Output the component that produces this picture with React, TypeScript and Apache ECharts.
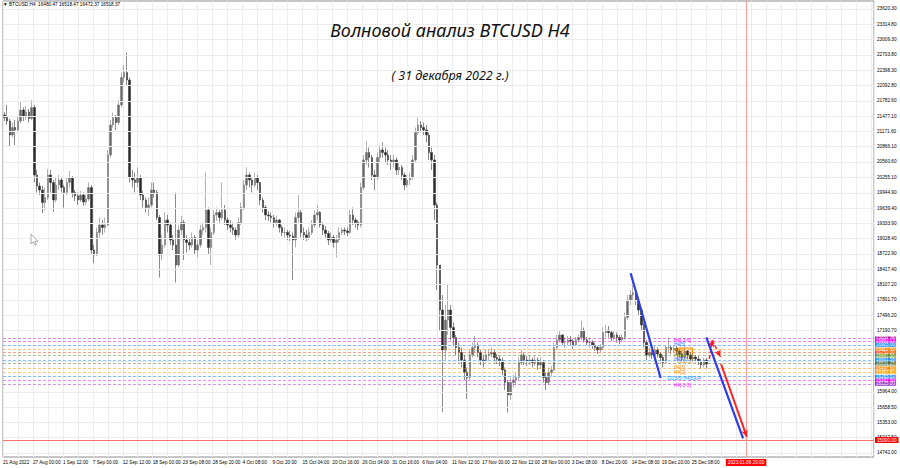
import React, { useEffect, useRef } from 'react';
import * as echarts from 'echarts';

// ---- price data: 12-hour candles, rows are [close, low, high]; open = previous close
const firstOpen = 21500;
const aug = [
  [21450, 21380, 21560], [21380, 21300, 21700], [21100, 20880, 21420], [21250, 21050, 21350],
  [21200, 20900, 21400], [21380, 21150, 21480], [21600, 21330, 21780], [21480, 21380, 21650],
  [21560, 21400, 21680], [21430, 21350, 21620], [21650, 21400, 21800], [20300, 20150, 21700],
  [20080, 19950, 20400], [20000, 19900, 20150], [19750, 19540, 20080], [19850, 19600, 20050],
  [20300, 19800, 20420], [20150, 19950, 20400], [19800, 19560, 20200], [20100, 19750, 20250],
  [20200, 20000, 20300],
];
const sep = [
  [20050, 19950, 20250], [19950, 19650, 20100], [20150, 19900, 20250], [20250, 20050, 20380],
  [19950, 19850, 20280], [19880, 19780, 20000], [19800, 19700, 19950], [19900, 19760, 19980],
  [19760, 19680, 19950], [19820, 19700, 19900], [20050, 19780, 20150], [18800, 18700, 20100],
  [18700, 18540, 18900], [19150, 18680, 19250], [19300, 19050, 19450], [19250, 19100, 19400],
  [19300, 19150, 19450], [20700, 19280, 20800], [21300, 20650, 21400], [21450, 21250, 21550],
  [21350, 21200, 21500], [21700, 21300, 21800], [22250, 21650, 22350], [22350, 22150, 22500],
  [22200, 22100, 22750], [20250, 20150, 22250], [20200, 20050, 20400], [20150, 19950, 20350],
  [20250, 20050, 20450], [19900, 19800, 20300], [19800, 19650, 19980], [19650, 19550, 19850],
  [19700, 19480, 19850], [20000, 19650, 20150], [19950, 19850, 20150], [19450, 19400, 20000],
  [18700, 18250, 19500], [18900, 18600, 19100], [19400, 18850, 19550], [19300, 19150, 19500],
  [19000, 18900, 19350], [18900, 18800, 19100], [18500, 18150, 19950], [19200, 18450, 19300],
  [19350, 19100, 19480], [19000, 18600, 19400], [18950, 18750, 19100], [18900, 18800, 19050],
  [19050, 18850, 19150], [18800, 18700, 19100], [18900, 18650, 19000], [19200, 18850, 19300],
  [19250, 19100, 19350], [19600, 19150, 20350], [18850, 18700, 19650], [19150, 18500, 19250],
  [19500, 19100, 19600], [19550, 19380, 19650], [19450, 19350, 19600], [19600, 19400, 20150],
];
const oct = [
  [19400, 19300, 19700], [19300, 19200, 19450], [19250, 19150, 19400], [19200, 19100, 19350],
  [19100, 19000, 19250], [19350, 19050, 19450], [19650, 19300, 19750], [20100, 19600, 20200],
  [20300, 20000, 20450], [20200, 20050, 20350], [20100, 19950, 20250], [20250, 20050, 20350],
  [20150, 20000, 20300], [19800, 19700, 20150], [19650, 19550, 19850], [19500, 19400, 19700],
  [19480, 19380, 19580], [19450, 19350, 19550], [19350, 19250, 19500], [19400, 19280, 19480],
  [19250, 19150, 19420], [19150, 19080, 19300], [19150, 19050, 19250], [19100, 19000, 19200],
  [19080, 18980, 19180], [19000, 18200, 19150], [19450, 18850, 19550], [19550, 19350, 19900],
  [19150, 19050, 19600], [19100, 19000, 19250], [19050, 18980, 19200], [19150, 19000, 19250],
  [19300, 19100, 19400], [19500, 19250, 19600], [19550, 19400, 19700], [19300, 19250, 19580],
  [19200, 19100, 19350], [19130, 19050, 19280], [19000, 18900, 19180], [19050, 18950, 19150],
  [18950, 18850, 19100], [19000, 18650, 19100], [19150, 18950, 19250], [19200, 19100, 19250],
  [19180, 19100, 19250], [19150, 19080, 19250], [19500, 19120, 19600], [19400, 19300, 19650],
  [19350, 19250, 19450], [19300, 19200, 19400], [20050, 19250, 20150], [20600, 20000, 20700],
  [20750, 20500, 20980], [20650, 20450, 20850], [20300, 20200, 20700], [20250, 20000, 20400],
  [20650, 20200, 20750], [20800, 20550, 20900], [20750, 20650, 20950], [20700, 20550, 20850],
  [20600, 20500, 20800], [20550, 20400, 20700],
];
const nov = [
  [20600, 20450, 20700], [20400, 20300, 20650], [20450, 20300, 20550], [20300, 20200, 20500],
  [20100, 20000, 20350], [20200, 20050, 20300], [20250, 20100, 20350], [20600, 20200, 20700],
  [21150, 20550, 21250], [21300, 21100, 21450], [21250, 21150, 21380], [21200, 21100, 21350],
  [21100, 20950, 21300], [20750, 20600, 21150], [20600, 20400, 20850], [19700, 19400, 20700],
  [18500, 18000, 19750], [17600, 17200, 18500], [16800, 15560, 17900], [17400, 16600, 17700],
  [17600, 17100, 18100], [17250, 17000, 17700], [17050, 16900, 17350], [16850, 16700, 17100],
  [16750, 16550, 16950], [16600, 16450, 16850], [16350, 16200, 16700], [16250, 15820, 16450],
  [16700, 16200, 16800], [16850, 16650, 16950], [16900, 16750, 17080], [16750, 16650, 16950],
  [16600, 16500, 16800], [16580, 16450, 16700], [16700, 16550, 16800], [16720, 16600, 16820],
  [16750, 16650, 16850], [16650, 16550, 16800], [16620, 16520, 16720], [16580, 16480, 16700],
  [16400, 16300, 16650], [16150, 16000, 16450], [15900, 15550, 16200], [16150, 15800, 16250],
  [16200, 16050, 16300], [16250, 16100, 16350], [16550, 16200, 16650], [16700, 16500, 16800],
  [16600, 16500, 16750], [16580, 16480, 16680], [16600, 16500, 16700], [16550, 16450, 16650],
  [16600, 16480, 16680], [16500, 16400, 16650], [16550, 16420, 16650], [16250, 16150, 16600],
  [16150, 16000, 16350], [16350, 16100, 16450], [16400, 16250, 16480], [16850, 16380, 16950],
];
const dec = [
  [17000, 16800, 17100], [17100, 16950, 17200], [16950, 16880, 17120], [16950, 16850, 17050],
  [17000, 16900, 17080], [16980, 16900, 17080], [16900, 16820, 17020], [17000, 16880, 17060],
  [17050, 16950, 17120], [17200, 17000, 17380], [17000, 16950, 17250], [16950, 16880, 17060],
  [16950, 16850, 17050], [16900, 16820, 17000], [16850, 16780, 16950], [16800, 16720, 16900],
  [16850, 16750, 16920], [17150, 16800, 17250], [17200, 17050, 17300], [17150, 17050, 17280],
  [17050, 16980, 17200], [17100, 17000, 17180], [17050, 16950, 17150], [17000, 16920, 17100],
  [17050, 16950, 17120], [17450, 17000, 17550], [17800, 17400, 17900], [17900, 17700, 18000],
  [17950, 17800, 18150], [17800, 17700, 18050], [17600, 17500, 17850], [17300, 17200, 17650],
  [16950, 16850, 17350], [16700, 16600, 17000], [16750, 16650, 16850], [16700, 16620, 16800],
  [16800, 16680, 16880], [16720, 16650, 16850], [16650, 16550, 16750], [16550, 16450, 16700],
  [16850, 16550, 16900], [16850, 16750, 17050], [16800, 16720, 16900], [16830, 16750, 16900],
  [16780, 16700, 16880], [16720, 16650, 16820], [16650, 16580, 16780], [16780, 16620, 16850],
  [16700, 16620, 16800], [16620, 16560, 16750], [16660, 16560, 16720], [16620, 16550, 16700],
  [16580, 16500, 16680], [16500, 16420, 16620], [16600, 16450, 16650], [16518, 16430, 16640],
];

// ---- axes
const SLOTS = 320;
const yMin = 14660;
const yMax = 23780;
const yTicks = [
  23620.3, 23314.8, 23009.3, 22703.8, 22398.3, 22092.8, 21782.6, 21477.1, 21171.6, 20866.1,
  20560.6, 20255.1, 19944.9, 19639.4, 19333.9, 19028.4, 18722.9, 18417.4, 18107.2, 17801.7,
  17496.2, 17190.7, 16885.2, 16579.7, 16274.2, 15964.0, 15658.5, 15353.0, 15047.5, 14742.0,
];
// tick labels hidden behind the level tags in the reference
const yHiddenLabels = [16885.2, 16579.7, 16274.2];
const xTickSlots = [0, 11, 22, 33, 44, 55, 66, 77, 88, 99, 110, 121, 132, 143, 154, 165, 176, 187, 198, 209, 220, 231, 242, 253];
const xTickLabels = [
  '21 Aug 2022', '27 Aug 00:00', '1 Sep 12:00', '7 Sep 00:00', '12 Sep 12:00', '18 Sep 00:00',
  '23 Sep 08:00', '28 Sep 20:00', '4 Oct 08:00', '9 Oct 20:00', '15 Oct 04:00', '20 Oct 16:00',
  '26 Oct 04:00', '31 Oct 16:00', '6 Nov 04:00', '11 Nov 12:00', '17 Nov 00:00', '22 Nov 12:00',
  '28 Nov 00:00', '3 Dec 08:00', '8 Dec 20:00', '14 Dec 08:00', '19 Dec 20:00', '25 Dec 08:00',
];

// ---- analysis levels
const levelPrices = [17031.25, 16983.13, 16905.0, 16812.5, 16750.0, 16687.5, 16601.56, 16531.25, 16437.5, 16357.81, 16265.63, 16187.5, 16125.0];
const levelColors = ['#b0189c', '#ff00ff', '#1e90ff', '#ff8c00', '#ff4500', '#6b8e23', '#1e90ff', '#556b2f', '#ff8c00', '#ffa500', '#1e90ff', '#ff00ff', '#9932cc'];
const targetPrice = 15000;
const futureSlot = 273;
const futureLabel = '2023.01.06 20:00';

const blueWave1 = [[230.6, 18334], [241.6, 16240]];
const blueWave2 = [[258.4, 17054], [271.9, 15034]];
const redDashed = [[259.5, 16620], [260.6, 17000], [263.6, 16660]];
const redSolid = [[263.8, 16520], [273.3, 15060]];
const boxArea = [[247.8, 16840], [253.3, 16560]];

const waveNotes = [
  { t: 'H4[-3-5]', v: 246.5, p: 17000, c: '#ff00ff' },
  { t: 'H4[5]', v: 246.5, p: 16920, c: '#1e90ff' },
  { t: 'H4[4]', v: 246.5, p: 16800, c: '#ff8c00' },
  { t: 'H4[4]', v: 246.5, p: 16700, c: '#6b8e23' },
  { t: 'H4[4]0', v: 246.5, p: 16620, c: '#1e90ff' },
  { t: 'H4[3]', v: 246.5, p: 16460, c: '#ff8c00' },
  { t: 'H4[2]', v: 246.5, p: 16360, c: '#ff8c00' },
  { t: 'D1[3/5] H4[5]UP', v: 244, p: 16240, c: '#1e90ff' },
  { t: 'H4[-2-5]', v: 246.5, p: 16100, c: '#ff00ff' },
];

const headerText = '\u25BC BTCUSD,H4  16480.47 16518.47 16472.37 16518.37';
const title1 = 'Волновой анализ BTCUSD H4';
const title2 = '( 31 декабря 2022 г.)';

const FS = 4.7;
const FONT = 'Liberation Sans';

function fade(hex: string, a: number) {
  const n = parseInt(hex.slice(1), 16);
  return `rgba(${(n >> 16) & 255},${(n >> 8) & 255},${n & 255},${a})`;
}

function buildOption() {
  const rows = [...aug, ...sep, ...oct, ...nov, ...dec];
  let prev = firstOpen;
  const ohlc = rows.map(([c, l, h]) => {
    const r = [prev, c, l, h];
    prev = c;
    return r;
  });
  const labelMap: Record<number, string> = {};
  xTickSlots.forEach((s, i) => (labelMap[s] = xTickLabels[i]));
  const yLabelValues = yTicks.filter((v) => !yHiddenLabels.includes(v));

  return {
    animation: false,
    backgroundColor: '#ffffff',
    textStyle: { fontFamily: FONT },
    grid: { left: 1, right: 26, top: 1, bottom: 11, show: true, borderColor: '#8c8c8c', borderWidth: 1 },
    title: [
      {
        text: title1, left: 'center', top: 21, padding: 0,
        textStyle: { fontSize: 18, fontStyle: 'italic', fontWeight: 'normal', fontFamily: 'Noto Sans', color: '#111' },
      },
      {
        text: title2, left: 'center', top: 69, padding: 0,
        textStyle: { fontSize: 12.5, fontStyle: 'italic', fontWeight: 'normal', fontFamily: 'Noto Sans', color: '#111' },
      },
    ],
    xAxis: [
      { type: 'category', data: Array.from({ length: SLOTS }, (_, i) => i), boundaryGap: true, show: false },
      {
        type: 'value', min: 0, max: SLOTS, interval: 5.5, position: 'bottom',
        axisLine: { show: false }, axisTick: { show: false },
        splitLine: { show: true, lineStyle: { color: '#ececec', width: 1 } },
        axisLabel: {
          customValues: xTickSlots,
          formatter: (v: number) => labelMap[v] ?? '',
          fontSize: FS, color: '#000', align: 'left', margin: 3, fontFamily: FONT,
        },
      },
    ],
    yAxis: {
      type: 'value', position: 'right', min: yMin, max: yMax,
      axisLine: { show: false }, axisTick: { show: false }, splitLine: { show: false },
      axisLabel: { customValues: yLabelValues, formatter: (v: number) => v.toFixed(2), fontSize: FS, color: '#000', margin: 3, fontFamily: FONT },
    },
    graphic: [
      { type: 'text', x: 3, y: 4, z: 100, style: { text: headerText, fontSize: FS, fontFamily: FONT, fill: '#000', verticalAlign: 'middle' } },
      {
        type: 'polygon', z: 100,
        shape: { points: [[31, 234], [31, 244], [33.4, 241.8], [35, 245.2], [36.4, 244.6], [34.9, 241.3], [38, 241.3]] },
        style: { fill: '#fff', stroke: '#888', lineWidth: 0.7 },
      },
    ],
    series: [
      {
        name: 'grid-h', type: 'line', xAxisIndex: 1, z: 1, data: [[0, yTicks[0]]], symbol: 'none', lineStyle: { width: 0 },
        markLine: {
          silent: true, symbol: 'none', label: { show: false },
          lineStyle: { color: '#ececec', width: 1, type: 'solid' },
          data: yTicks.map((v) => ({ yAxis: v })),
        },
      },
      {
        name: 'levels', type: 'line', xAxisIndex: 1, z: 3, data: [[0, levelPrices[0]]], symbol: 'none', lineStyle: { width: 0 },
        markLine: {
          silent: true, symbol: 'none',
          data: [
            ...levelPrices.map((p, i) => ({
              yAxis: p,
              lineStyle: { color: fade(levelColors[i], 0.5), width: 1, type: [3, 2] },
              label: {
                show: true, position: 'end', distance: 1, formatter: p.toFixed(2), color: '#fff', fontSize: 4.5,
                backgroundColor: levelColors[i], padding: [0, 1, 0, 1], lineHeight: 4, fontFamily: FONT,
              },
            })),
            {
              yAxis: targetPrice,
              lineStyle: { color: '#ff7070', width: 1, type: 'solid' },
              label: {
                show: true, position: 'end', distance: 1, formatter: targetPrice.toFixed(2), color: '#fff', fontSize: FS,
                backgroundColor: '#ff0000', padding: [0, 2, 0, 2], lineHeight: 6, fontFamily: FONT,
              },
            },
            {
              xAxis: futureSlot,
              lineStyle: { color: '#ff9a9a', width: 1, type: 'solid' },
              label: {
                show: true, position: 'start', distance: 2, formatter: futureLabel, color: '#fff', fontSize: FS,
                backgroundColor: '#ff0000', padding: [1, 2, 1, 2], fontFamily: FONT,
              },
            },
          ],
        },
      },
      {
        name: 'BTCUSD', type: 'candlestick', xAxisIndex: 0, z: 4, barWidth: 2, data: ohlc,
        itemStyle: { color: '#6a6a6a', color0: '#2a2a2a', borderColor: '#7a7a7a', borderColor0: '#3a3a3a', borderWidth: 0.6 },
      },
      {
        name: 'wave1', type: 'line', xAxisIndex: 1, z: 6, data: blueWave1, symbol: 'none',
        lineStyle: { color: '#2c3cf0', width: 2.2 },
        markArea: {
          silent: true,
          itemStyle: { color: 'rgba(255,150,0,0.22)', borderColor: '#ff8c00', borderWidth: 1 },
          data: [[{ coord: boxArea[0] }, { coord: boxArea[1] }]],
        },
        markPoint: {
          silent: true,
          data: waveNotes.map((n) => ({
            coord: [n.v, n.p], symbolSize: 0,
            label: { show: true, formatter: n.t, color: n.c, position: 'right', distance: 0, fontSize: FS, fontFamily: FONT },
          })),
        },
      },
      {
        name: 'wave2', type: 'line', xAxisIndex: 1, z: 6, data: blueWave2, symbol: 'none',
        lineStyle: { color: '#2c3cf0', width: 2.2 },
        markLine: {
          silent: true, symbol: ['none', 'arrow'], symbolSize: [5, 7], label: { show: false },
          data: [
            [
              { coord: redDashed[0], lineStyle: { color: '#ff2020', width: 1.5, type: [4, 2] } },
              { coord: redDashed[1] },
            ],
            [
              { coord: redDashed[1], lineStyle: { color: '#ff2020', width: 1.5, type: [4, 2] } },
              { coord: redDashed[2] },
            ],
            [
              { coord: redSolid[0], lineStyle: { color: '#ff2020', width: 2, type: 'solid' } },
              { coord: redSolid[1] },
            ],
          ],
        },
      },
    ],
  };
}

export default function App() {
  const ref = useRef<HTMLDivElement>(null);
  useEffect(() => {
    const chart = echarts.init(ref.current as HTMLDivElement, null, { renderer: 'svg' });
    chart.setOption(buildOption() as any);
    return () => chart.dispose();
  }, []);
  return <div ref={ref} style={{ position: 'fixed', left: 0, top: 0, width: 900, height: 468, background: '#fff' }} />;
}
